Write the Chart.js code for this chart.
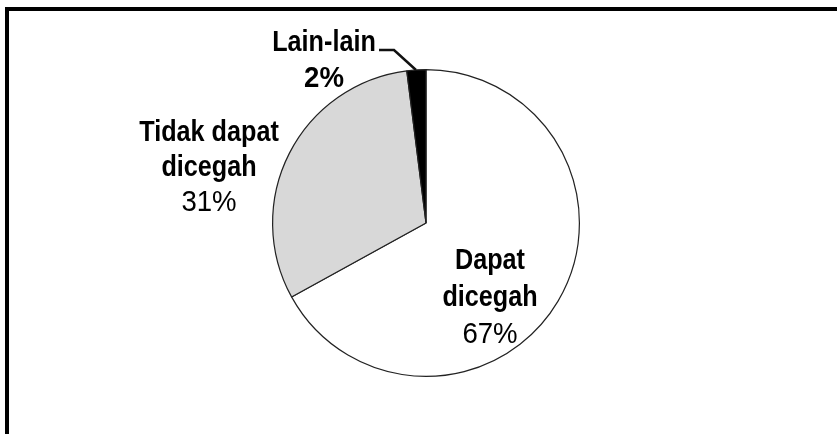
<!DOCTYPE html>
<html>
<head>
<meta charset="utf-8">
<script src="https://cdn.jsdelivr.net/npm/chart.js@4/dist/chart.umd.min.js"></script>
<style>
  html, body { margin: 0; padding: 0; background: #fff; overflow: hidden; }
  #wrap { position: relative; width: 837px; height: 434px; }
  #frame {
    position: absolute; left: 5px; top: 7px; right: 0; bottom: 0;
    border-left: 4px solid #000; border-top: 4px solid #000;
    pointer-events: none;
  }
  canvas { position: absolute; left: 0; top: 0; }
</style>
</head>
<body>
<div id="wrap">
  <canvas id="pieChart" width="837" height="434"></canvas>
  <div id="frame"></div>
</div>
<script>
// Chart data
const categories = ['Dapat dicegah', 'Tidak dapat dicegah', 'Lain-lain'];
const percentValues = [67, 31, 2];
const sliceColors = ['#ffffff', '#d8d8d8', '#000000'];

// Label lines drawn next to each slice (name lines + percentage)
const labelLines = [
    ['Dapat', 'dicegah'],
    ['Tidak dapat', 'dicegah'],
    ['Lain-lain']
];

/**
 * Draws the slice labels with a condensed font, plus the leader for Lain-lain
 */
const sliceLabels = {
    id: 'sliceLabels',
    afterDatasetsDraw(chart) {
        const ctx = chart.ctx;
        const arc = chart.getDatasetMeta(0).data[0];
        const cx = arc.x, cy = arc.y;

        // anchor (centre x, first baseline) relative to pie centre
        const anchors = [
            { dx: 64, dy: 46, step: 37 },
            { dx: -217, dy: -82, step: 35 },
            { dx: -102, dy: -172, step: 36 }
        ];

        ctx.save();
        ctx.fillStyle = '#000';
        ctx.textAlign = 'center';
        ctx.textBaseline = 'alphabetic';

        categories.forEach((cat, i) => {
            const a = anchors[i];
            const lines = labelLines[i].concat([percentValues[i] + '%']);
            lines.forEach((txt, j) => {
                const isPct = j === lines.length - 1;
                ctx.save();
                ctx.translate(cx + a.dx, cy + a.dy + j * a.step);
                ctx.scale(isPct ? 0.92 : 0.84, 1);
                ctx.font = (isPct && i !== 2 ? '' : 'bold ') + '30px "Liberation Sans", Arial, sans-serif';
                ctx.fillText(txt, 0, 0);
                ctx.restore();
            });
        });

        // leader line from "Lain-lain" to the small black slice
        ctx.strokeStyle = '#111';
        ctx.lineWidth = 2.5;
        ctx.beginPath();
        ctx.moveTo(cx - 47, cy - 173);
        ctx.lineTo(cx - 32, cy - 173);
        ctx.lineTo(cx - 10, cy - 153);
        ctx.stroke();
        ctx.restore();
    }
};

new Chart(document.getElementById('pieChart'), {
    type: 'pie',
    data: {
        labels: categories,
        datasets: [{
            data: percentValues,
            backgroundColor: sliceColors,
            borderColor: '#222222',
            borderWidth: 1.2
        }]
    },
    options: {
        responsive: false,
        animation: false,
        rotation: 0,
        layout: {
            padding: { top: 69, bottom: 57, left: 272, right: 257 }
        },
        plugins: {
            legend: { display: false },
            tooltip: { enabled: false }
        }
    },
    plugins: [sliceLabels]
});
</script>
</body>
</html>
